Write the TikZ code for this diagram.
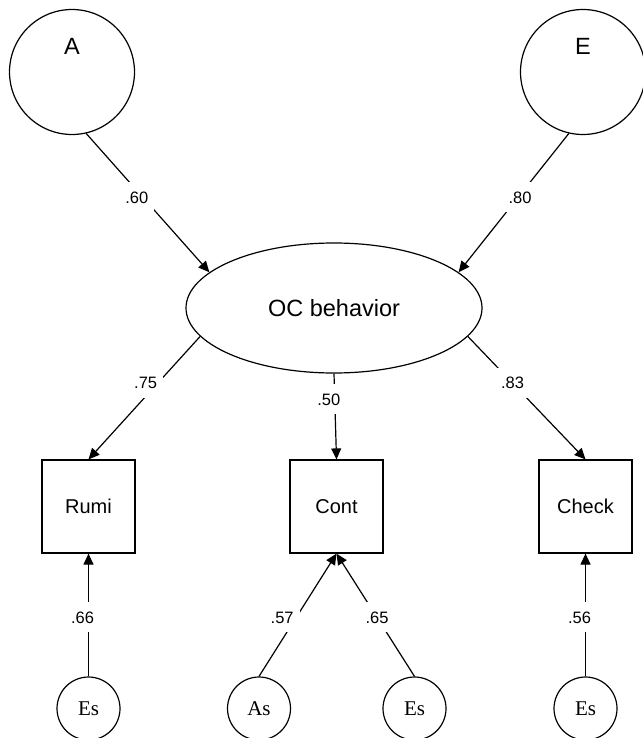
\documentclass[tikz,border=0pt]{standalone}
\usepackage{fontspec}
\setmainfont{Liberation Sans}
\newfontfamily\errfont{Liberation Serif}
\usetikzlibrary{arrows.meta,shapes.geometric}

\begin{document}
\begin{tikzpicture}[x=0.5pt, y=-0.5pt, line width=0.6pt,
	latent/.style={draw, circle, minimum size=62.5pt, inner sep=0pt},
	factor/.style={draw, ellipse, minimum width=148pt, minimum height=65pt,
		inner sep=0pt, font=\fontsize{11.75}{14}\selectfont},
	obs/.style={draw, rectangle, minimum size=46.5pt, inner sep=0pt,
		font=\fontsize{10}{12}\selectfont},
	err/.style={draw, circle, minimum size=31.5pt, inner sep=0pt,
		font=\errfont\fontsize{10.5}{12}\selectfont},
	bigname/.style={inner sep=0pt, font=\fontsize{11.75}{14}\selectfont},
	effect/.style={-{Triangle[length=5.5pt,width=5pt]}},
	coef/.style={fill=white, inner xsep=3pt, inner ysep=1pt, minimum height=15pt,
		font=\fontsize{8.25}{10}\selectfont}]
	% Frame of the picture
	\useasboundingbox (0,0) rectangle (642,738);
	
	% Latent traits
	\node[latent] (A) at (72,72) {};
	\node[latent] (E) at (583,72) {};
	\node[bigname] (Aname) at ([yshift=12.75pt]A.center) {A};
	\node[bigname] (Ename) at ([yshift=12.75pt]E.center) {E};
	
	% Factor
	\node[factor] (OC) at (334,308) {OC behavior};
	
	% Indicators
	\node[obs] (Rumi) at (88.5,506.5) {Rumi};
	\node[obs] (Cont) at (336.5,506.5) {Cont};
	\node[obs] (Check) at (585.5,506.5) {Check};
	
	% Residuals
	\node[err] (EsR) at (88.5,708.5) {Es};
	\node[err] (AsC) at (259,708.5) {As};
	\node[err] (EsC) at (414.5,708.5) {Es};
	\node[err] (EsK) at (585.5,708.5) {Es};
	
	% Paths to the factor
	\draw[effect] (A.-77) -- node[coef, pos=0.46, xshift=-3pt] (c60) {.60} (OC.164);
	\draw[effect] (E.-103) -- node[coef, pos=0.46, xshift=1pt] (c80) {.80} (OC.16);
	
	% Loadings
	\draw[effect] (OC.192) -- node[coef, pos=0.38, xshift=-6pt] (c75) {.75} (Rumi.north);
	\draw[effect] (OC.south) -- node[coef, pos=0.30, xshift=-3pt] (c50) {.50} (Cont.north);
	\draw[effect] (OC.-12) -- node[coef, pos=0.38] (c83) {.83} (Check.north);
	
	% Residual paths
	\draw[effect] (EsR.north) -- node[coef, pos=0.48, xshift=-3pt] (c66) {.66} (Rumi.south);
	\draw[effect] (AsC.north) -- node[coef, pos=0.48, xshift=-7pt] (c57) {.57} (Cont.south);
	\draw[effect] (EsC.north) -- node[coef, pos=0.48] (c65) {.65} (Cont.south);
	\draw[effect] (EsK.north) -- node[coef, pos=0.48, xshift=-3pt] (c56) {.56} (Check.south);
\end{tikzpicture}
\end{document}
